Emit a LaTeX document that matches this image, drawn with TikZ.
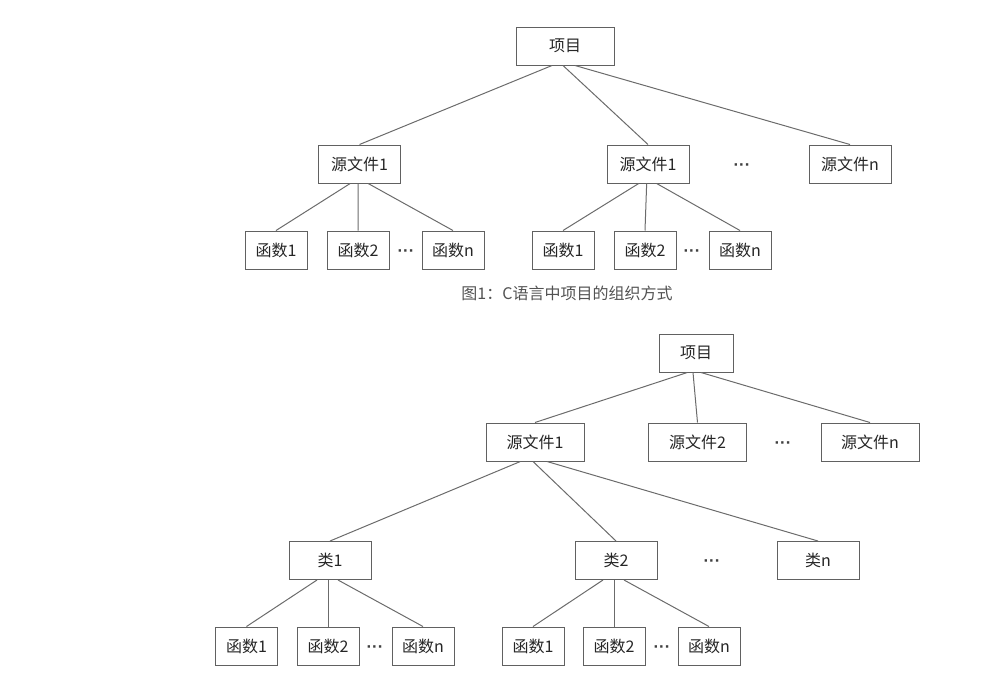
\documentclass[tikz,border=0pt]{standalone}
\usepackage{fontspec}
\newfontfamily\cjk{Noto Sans CJK SC}
\newfontfamily\latin{Liberation Sans}
\usepackage{tikz}
\usetikzlibrary{positioning}

\begin{document}
\begin{tikzpicture}[
  x=0.75pt,y=-0.75pt,
  font=\cjk\fontsize{12}{14}\selectfont,
  box/.style={draw=black!62, line width=0.75pt, text=black!85, inner sep=0pt, minimum height=28.5pt},
  wA/.style={box, minimum width=73.5pt},
  wB/.style={box, minimum width=61.5pt},
  wF/.style={box, minimum width=46.5pt},
  wP/.style={box, minimum width=55.5pt},
  more/.style={font=\latin\bfseries\fontsize{12.5}{14}\selectfont, text=black!75, inner sep=0pt, yshift=-2.25pt},
  link/.style={draw=black!58, line width=0.75pt},
  captext/.style={text=black!68, inner sep=0pt},
]
\useasboundingbox (0,0) rectangle (1000,676);

%% ---------- FIGURE 1: C PROJECT ----------
\node[wA] (projA) at (565,46) {项目};
\node[wB] (srcA1) at (359.5,164) {源文件1};
\node[wB] (srcA2) at (648,164) {源文件1};
\node[more] (dotsA) at (742,164) {···};
\node[wB] (srcAn) at (850,164) {源文件n};

\node[wF] (funA11) at (276,250) {函数1};
\node[wF] (funA12) at (358,250) {函数2};
\node[more] (dotsA1) at (406,250) {···};
\node[wF] (funA1n) at (453,250) {函数n};
\node[wF] (funA21) at (563,250) {函数1};
\node[wF] (funA22) at (645,250) {函数2};
\node[more] (dotsA2) at (692,250) {···};
\node[wF] (funA2n) at (740,250) {函数n};

\draw[link] ([xshift=-9.75pt]projA.south) -- (srcA1.north);
\draw[link] ([xshift=-1.5pt]projA.south) -- (srcA2.north);
\draw[link] ([xshift=7.5pt]projA.south) -- (srcAn.north);
\draw[link] ([xshift=-7pt]srcA1.south) -- (funA11.north);
\draw[link] ([xshift=-1pt]srcA1.south) -- (funA12.north);
\draw[link] ([xshift=6.5pt]srcA1.south) -- (funA1n.north);
\draw[link] ([xshift=-7pt]srcA2.south) -- (funA21.north);
\draw[link] ([xshift=-1pt]srcA2.south) -- (funA22.north);
\draw[link] ([xshift=6.5pt]srcA2.south) -- (funA2n.north);

\node[captext] (capA) at (567,293) {图1：C语言中项目的组织方式};

%% ---------- FIGURE 2: C++ PROJECT ----------
\node[wP] (projB) at (696,353) {项目};
\node[wA] (srcB1) at (535,442) {源文件1};
\node[wA] (srcB2) at (697.5,442) {源文件2};
\node[more] (dotsB) at (783,442) {···};
\node[wA] (srcBn) at (870,442) {源文件n};

\node[wB] (clsB1) at (330,560.5) {类1};
\node[wB] (clsB2) at (616,560.5) {类2};
\node[more] (dotsC) at (712,560.5) {···};
\node[wB] (clsBn) at (818,560.5) {类n};

\node[wF] (funB11) at (246.5,646) {函数1};
\node[wF] (funB12) at (328,646) {函数2};
\node[more] (dotsB1) at (375,646) {···};
\node[wF] (funB1n) at (423,646) {函数n};
\node[wF] (funB21) at (533,646) {函数1};
\node[wF] (funB22) at (614,646) {函数2};
\node[more] (dotsB2) at (662,646) {···};
\node[wF] (funB2n) at (709,646) {函数n};

\draw[link] ([xshift=-6.5pt]projB.south) -- (srcB1.north);
\draw[link] ([xshift=-2.25pt]projB.south) -- (srcB2.north);
\draw[link] ([xshift=3.75pt]projB.south) -- (srcBn.north);
\draw[link] ([xshift=-11pt]srcB1.south) -- (clsB1.north);
\draw[link] ([xshift=-1.5pt]srcB1.south) -- (clsB2.north);
\draw[link] ([xshift=9pt]srcB1.south) -- (clsBn.north);
\draw[link] ([xshift=-9.75pt]clsB1.south) -- (funB11.north);
\draw[link] ([xshift=-1.5pt]clsB1.south) -- (funB12.north);
\draw[link] ([xshift=6pt]clsB1.south) -- (funB1n.north);
\draw[link] ([xshift=-9.75pt]clsB2.south) -- (funB21.north);
\draw[link] ([xshift=-1.5pt]clsB2.south) -- (funB22.north);
\draw[link] ([xshift=6pt]clsB2.south) -- (funB2n.north);
\end{tikzpicture}
\end{document}
